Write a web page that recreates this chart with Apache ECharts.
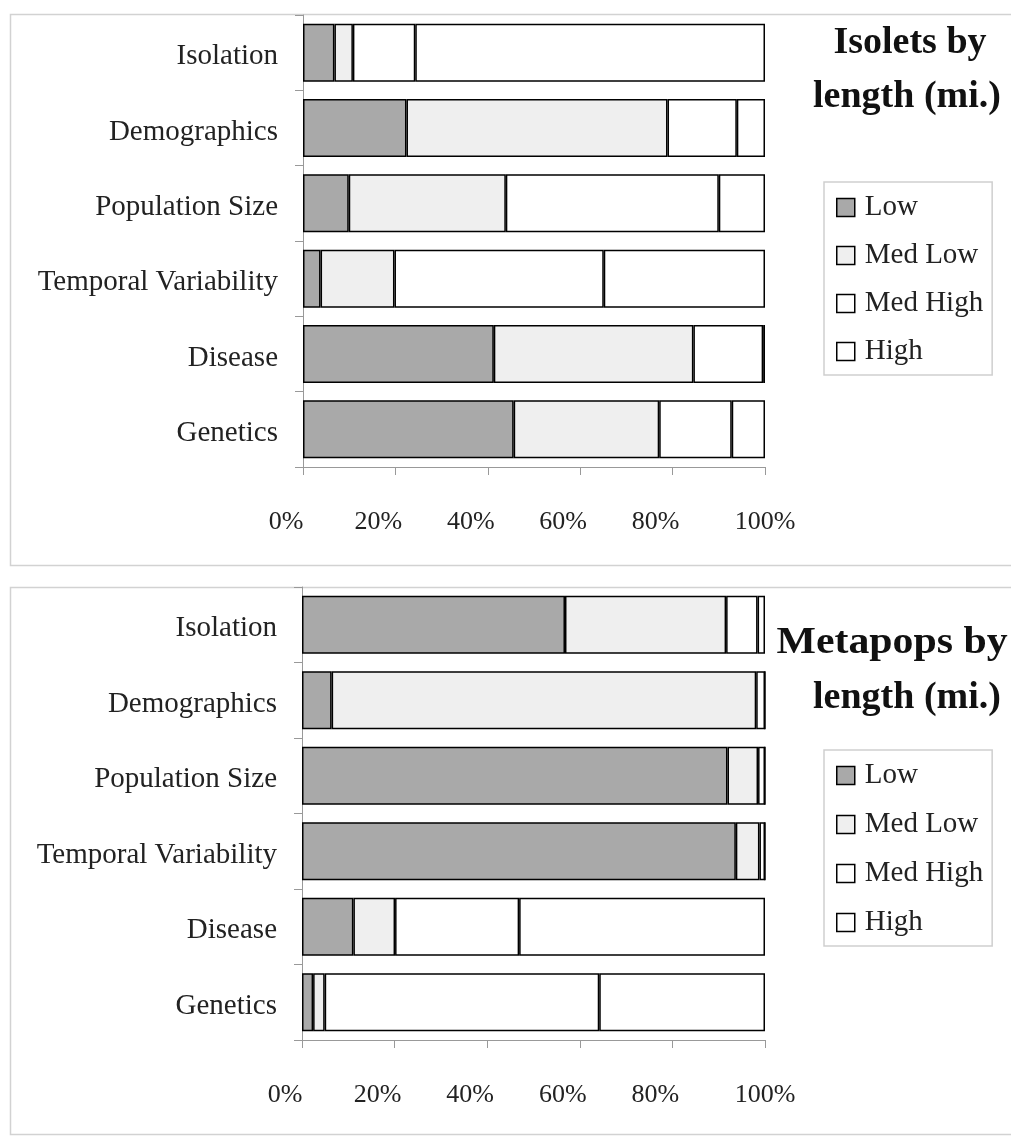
<!DOCTYPE html>
<html>
<head>
<meta charset="utf-8">
<script src="https://cdn.jsdelivr.net/npm/echarts@6/dist/echarts.min.js"></script>
<style>
html,body{margin:0;padding:0;background:#fff;}
#chart{width:1011px;height:1138px;}
</style>
</head>
<body>
<div id="chart"></div>
<script>
const categories = ['Isolation', 'Demographics', 'Population Size', 'Temporal Variability', 'Disease', 'Genetics'];
const seriesNames = ['Low', 'Med Low', 'Med High', 'High'];
const xTicks = [0, 20, 40, 60, 80, 100];

// Isolets by length (mi.)
const isoLow     = [6.8, 22.4, 9.9, 3.8, 41.3, 45.6];
const isoMedLow  = [4.0, 56.5, 34.0, 16.0, 43.2, 31.5];
const isoMedHigh = [13.5, 15.0, 46.1, 45.3, 15.1, 15.7];
const isoHigh    = [75.7, 6.1, 10.0, 34.9, 0.4, 7.2];

// Metapops by length (mi.)
const metaLow     = [56.8, 6.4, 91.9, 93.7, 11.1, 2.4];
const metaMedLow  = [34.8, 91.7, 6.6, 5.1, 9.0, 2.5];
const metaMedHigh = [6.8, 1.9, 1.5, 1.2, 26.8, 59.3];
const metaHigh    = [1.6, 0, 0, 0, 53.1, 35.8];

const fills = ['#a9a9a9', '#efefef', '#ffffff', '#ffffff'];
const FONT = '"Liberation Serif", "Times New Roman", serif';

const chart = echarts.init(document.getElementById('chart'));

function mkSeries(dataArrs, idx) {
  return dataArrs.map((d, i) => ({
    name: seriesNames[i],
    type: 'bar',
    stack: 'total' + idx,
    xAxisIndex: idx,
    yAxisIndex: idx,
    data: d,
    barCategoryGap: '23%',
    itemStyle: { color: fills[i], borderColor: '#000', borderWidth: 1.5 },
    emphasis: { disabled: true },
    animation: false
  }));
}

function mkX(idx) {
  return {
    type: 'value', gridIndex: idx, min: xTicks[0], max: xTicks[xTicks.length - 1], interval: 20,
    axisLine: { show: true, lineStyle: { color: '#999', width: 1 } },
    axisTick: { show: true, length: 8, lineStyle: { color: '#999' } },
    splitLine: { show: false },
    axisLabel: {
      margin: 42, fontFamily: FONT, fontSize: 26, color: '#222',
      formatter: v => (v === 100 ? '{b|' + v + '%}' : '{a|' + v + '%}'),
      rich: {
        a: { fontFamily: FONT, fontSize: 26, color: '#222', padding: [0, 34, 0, 0] },
        b: { fontFamily: FONT, fontSize: 26, color: '#222', padding: [0, 0, 0, 0] }
      }
    }
  };
}
function mkY(idx) {
  return {
    type: 'category', gridIndex: idx, data: categories, inverse: true,
    axisLine: { show: true, lineStyle: { color: '#999', width: 1 } },
    axisTick: { show: true, length: 8, lineStyle: { color: '#999' } },
    axisLabel: {
      margin: 25, fontFamily: FONT, fontSize: 29, color: '#222',
      formatter: v => '{c|' + v + '}',
      rich: { c: { fontFamily: FONT, fontSize: 29, color: '#222', padding: [8, 0, 0, 0] } }
    }
  };
}
function mkLegend(top, gap) {
  return {
    data: seriesNames, orient: 'vertical', left: 824, top: top,
    icon: 'rect', itemWidth: 18, itemHeight: 18, itemGap: gap,
    padding: [11, 9, 9, 12],
    borderColor: '#cfcfcf', borderWidth: 1.5,
    itemStyle: { borderColor: '#000', borderWidth: 1.5 },
    textStyle: { fontFamily: FONT, fontSize: 29, color: '#222', padding: [0, 0, 0, 5] },
    selectedMode: false
  };
}
function titleText(txt, x, y, sx) {
  return {
    type: 'text', silent: true, x: x, y: y, scaleX: sx || 1,
    style: { text: txt, x: 0, y: 0, textAlign: 'center', textVerticalAlign: 'middle',
      font: 'bold 38px ' + FONT, fill: '#111' }
  };
}

chart.setOption({
  backgroundColor: '#fff',
  animation: false,
  grid: [
    { left: 303, right: 246, top: 15, bottom: 671 },
    { left: 302, right: 246, top: 587, bottom: 98 }
  ],
  xAxis: [mkX(0), mkX(1)],
  yAxis: [mkY(0), mkY(1)],
  legend: [mkLegend(182, 19), mkLegend(750, 20)],
  graphic: [
    { type: 'rect', silent: true, z: -10, shape: { x: 10.5, y: 14.5, width: 1010, height: 551 },
      style: { fill: 'none', stroke: '#d2d2d2', lineWidth: 1.5 } },
    { type: 'rect', silent: true, z: -10, shape: { x: 10.5, y: 587.5, width: 1010, height: 547 },
      style: { fill: 'none', stroke: '#d2d2d2', lineWidth: 1.5 } },
    titleText('Isolets by', 910, 43),
    titleText('length (mi.)', 907, 97),
    titleText('Metapops by', 892, 643, 1.1),
    titleText('length (mi.)', 907, 698)
  ],
  series: [
    ...mkSeries([isoLow, isoMedLow, isoMedHigh, isoHigh], 0),
    ...mkSeries([metaLow, metaMedLow, metaMedHigh, metaHigh], 1)
  ]
});
</script>
</body>
</html>
